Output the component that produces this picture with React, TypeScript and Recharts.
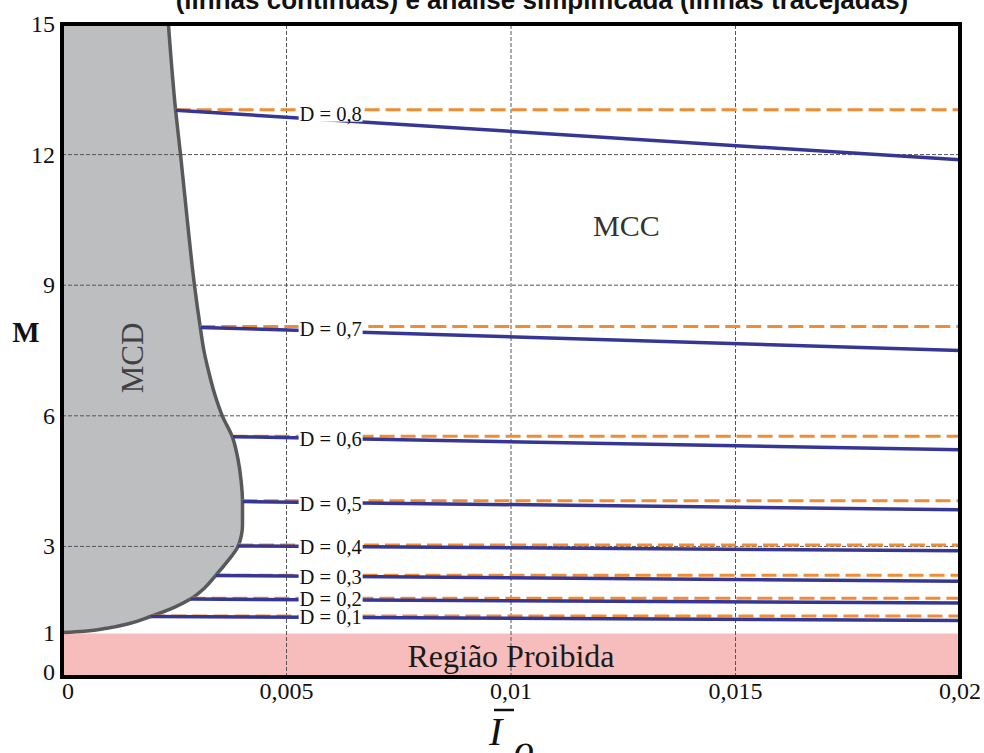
import React from 'react'
import {
  ComposedChart,
  Area,
  Line,
  Scatter,
  XAxis,
  YAxis,
  ReferenceLine,
  ReferenceArea,
  ReferenceDot,
} from 'recharts'

const SERIF = '"Liberation Serif", "Times New Roman", serif'
const SANS = '"Liberation Sans", Arial, sans-serif'

const xTicks = [0, 0.005, 0.01, 0.015, 0.02]
const yTicks = [0, 1, 3, 6, 9, 12, 15]
const gridX = [0.005, 0.01, 0.015]
const gridY = [3, 6, 9, 12]

// fronteira entre MCD e MCC (Io, M)
const boundaryIo = [
  0, 0.0005, 0.001, 0.0015, 0.00197, 0.0025, 0.00286, 0.00318, 0.00342, 0.00368,
  0.00392, 0.00402, 0.00402, 0.00399, 0.00392, 0.0038, 0.00357, 0.0034, 0.00327,
  0.00316, 0.00308, 0.00295, 0.00279, 0.00264, 0.00253, 0.00237,
]
const boundaryM = [
  1.02, 1.05, 1.12, 1.23, 1.39, 1.6, 1.79, 2.05, 2.33, 2.65,
  3.0, 3.5, 4.03, 4.5, 5.0, 5.5, 6.0, 6.5, 7.0,
  7.5, 8.03, 9.0, 10.5, 12.0, 13.02, 15.0,
]

// curvas de ganho para cada razao ciclica
const dutyNames = ['D = 0,1', 'D = 0,2', 'D = 0,3', 'D = 0,4', 'D = 0,5', 'D = 0,6', 'D = 0,7', 'D = 0,8']
const dutyStartIo = [0.00197, 0.00286, 0.00342, 0.00392, 0.00402, 0.0038, 0.00308, 0.00253]
const fullStartM = [1.39, 1.79, 2.33, 3.01, 4.03, 5.52, 8.03, 13.02]
const fullEndM = [1.3, 1.7, 2.2, 2.9, 3.84, 5.22, 7.5, 11.88]
const simpleM = [1.4, 1.81, 2.34, 3.03, 4.05, 5.53, 8.05, 13.03]
const labelM = [1.37, 1.79, 2.3, 2.98, 3.97, 5.47, 7.99, 12.94]
const labelIo = 0.00527

const boundaryData = boundaryIo.map((x, i) => ({ x, m: boundaryM[i] }))
const fullLines = dutyNames.map((_, i) => [
  { x: dutyStartIo[i], m: fullStartM[i] },
  { x: 0.02, m: fullEndM[i] },
])
const simpleLines = dutyNames.map((_, i) => [
  { x: dutyStartIo[i], m: simpleM[i] },
  { x: 0.02, m: simpleM[i] },
])
const labelData = dutyNames.map((name, i) => ({ x: labelIo, m: labelM[i], name }))

const XTick = (props: any) => {
  const { x, y, payload } = props
  const v = payload.value
  return (
    <text
      x={v === 0 ? x + 6 : x}
      y={y + 22}
      textAnchor="middle"
      fontFamily={SERIF}
      fontSize={24}
      fill="#111"
    >
      {String(v).replace('.', ',')}
    </text>
  )
}

const YTick = (props: any) => {
  const { x, y, payload } = props
  const v = payload.value
  return (
    <text
      x={x - 7}
      y={v === 0 ? y + 3 : y + 8}
      textAnchor="end"
      fontFamily={SERIF}
      fontSize={24}
      fill="#111"
    >
      {v}
    </text>
  )
}

const DutyLabel = (props: any) => {
  const { cx, cy, payload } = props
  return (
    <g>
      <rect x={cx} y={cy - 8} width={64} height={16} fill="#fff" />
      <text x={cx + 1} y={cy + 7} fontFamily={SERIF} fontSize={20.5} fill="#111">
        {payload.name}
      </text>
    </g>
  )
}

export default function App() {
  return (
    <div style={{ position: 'absolute', left: 0, top: 0, width: 984, height: 753, background: '#fff' }}>
      <ComposedChart width={984} height={753} margin={{ top: 24, right: 24, bottom: 46, left: 0 }}>
        <XAxis
          dataKey="x"
          type="number"
          domain={[0, 0.02]}
          ticks={xTicks}
          interval={0}
          allowDataOverflow
          axisLine={false}
          tickLine={false}
          tickSize={0}
          tickMargin={0}
          height={30}
          tick={<XTick />}
        />
        <YAxis
          type="number"
          domain={[0, 15]}
          ticks={yTicks}
          interval={0}
          allowDataOverflow
          axisLine={false}
          tickLine={false}
          tickSize={0}
          tickMargin={0}
          width={62}
          tick={<YTick />}
        />
        <ReferenceArea
          x1={0}
          x2={0.02}
          y1={0}
          y2={1}
          fill="#f7bdbd"
          fillOpacity={1}
          stroke="none"
          zIndex={50}
          label={{ value: 'Região Proibida', position: 'center', fontSize: 32, fontFamily: SERIF, fill: '#1a1a1a' }}
        />
        <Area
          data={boundaryData}
          dataKey="m"
          type="monotoneY"
          baseValue="dataMax"
          fill="#bcbec0"
          fillOpacity={1}
          stroke="#58595b"
          strokeWidth={3.5}
          dot={false}
          activeDot={false}
          isAnimationActive={false}
        />
        {gridX.map((v) => (
          <ReferenceLine key={'gx' + v} x={v} stroke="#555" strokeWidth={1} strokeDasharray="4 2" zIndex={150} />
        ))}
        {gridY.map((v) => (
          <ReferenceLine key={'gy' + v} y={v} stroke="#555" strokeWidth={1} strokeDasharray="4 2" zIndex={150} />
        ))}
        {simpleLines.map((d, i) => (
          <Line
            key={'s' + i}
            data={d}
            dataKey="m"
            type="linear"
            stroke="#f08c34"
            strokeWidth={3}
            strokeDasharray="15 6"
            dot={false}
            activeDot={false}
            isAnimationActive={false}
          />
        ))}
        {fullLines.map((d, i) => (
          <Line
            key={'f' + i}
            data={d}
            dataKey="m"
            type="linear"
            stroke="#363795"
            strokeWidth={3.5}
            dot={false}
            activeDot={false}
            isAnimationActive={false}
          />
        ))}
        <Scatter data={labelData} dataKey="m" shape={<DutyLabel />} isAnimationActive={false} />
        <ReferenceDot
          x={0.01257}
          y={10.37}
          r={0}
          fill="none"
          stroke="none"
          label={{ value: 'MCC', position: 'center', fontSize: 30, fontFamily: SERIF, fill: '#333' }}
        />
        <ReferenceDot
          x={0.00157}
          y={7.33}
          r={0}
          fill="none"
          stroke="none"
          zIndex={2000}
          label={{ value: 'MCD', position: 'center', angle: -90, fontSize: 31, fontFamily: SERIF, fill: '#414042' }}
        />
        <ReferenceArea
          x1={0}
          x2={0.02}
          y1={0}
          y2={15}
          fill="none"
          stroke="#000"
          strokeWidth={4}
          zIndex={2500}
        />
      </ComposedChart>
      <svg
        width={984}
        height={753}
        style={{ position: 'absolute', left: 0, top: 0, pointerEvents: 'none' }}
      >
        <text x={542} y={9} textAnchor="middle" fontFamily={SANS} fontWeight="bold" fontSize={26} fill="#111">
          (linhas contínuas) e análise simplificada (linhas tracejadas)
        </text>
        <text x={26} y={342} textAnchor="middle" fontFamily={SERIF} fontWeight="bold" fontSize={29} fill="#111">
          M
        </text>
        <line x1={494} x2={514} y1={710} y2={710} stroke="#111" strokeWidth={2.5} />
        <text x={489} y={745} fontFamily={SERIF} fontStyle="italic" fontSize={40} fill="#111">
          I
        </text>
        <text x={514} y={763} fontFamily={SERIF} fontStyle="italic" fontSize={40} fill="#111">
          o
        </text>
      </svg>
    </div>
  )
}
